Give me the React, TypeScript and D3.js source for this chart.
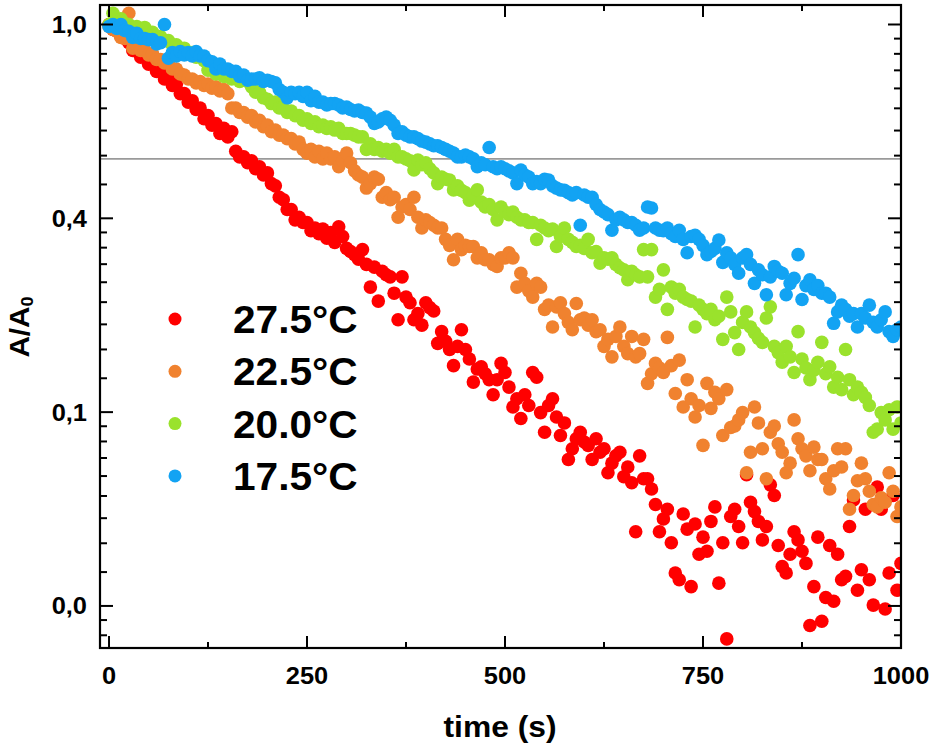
import React from 'react';
import * as d3 from 'd3';

// sampling every 5 s, 0..1000 s
const times = d3.range(0, 1001, 5);

// A/A0
const red275 = [
  1.00, 0.975, 0.975, 0.94, 0.93,
  0.91, 0.875, 0.88, 0.845, 0.85,
  0.815, 0.82, 0.785, 0.79, 0.755,
  0.755, 0.73, 0.735, 0.70, 0.70,
  0.67, 0.675, 0.645, 0.65, 0.615,
  0.625, 0.595, 0.60, 0.57, 0.585,
  0.56, 0.575, 0.52, 0.505, 0.505,
  0.49, 0.495, 0.475, 0.48, 0.46,
  0.465, 0.44, 0.435, 0.41, 0.405,
  0.385, 0.385, 0.365, 0.37, 0.36,
  0.36, 0.345, 0.35, 0.34, 0.348,
  0.332, 0.342, 0.325, 0.352, 0.335,
  0.315, 0.31, 0.305, 0.298, 0.313,
  0.29, 0.258, 0.286, 0.24, 0.28,
  0.275, 0.272, 0.25, 0.218, 0.272,
  0.245, 0.238, 0.218, 0.225, 0.212,
  0.238, 0.232, 0.228, 0.193, 0.205,
  0.195, 0.187, 0.172, 0.19, 0.207,
  0.187, 0.178, 0.158, 0.169, 0.171,
  0.165, 0.16, 0.148, 0.16, 0.174,
  0.166, 0.154, 0.139, 0.145, 0.131,
  0.148, 0.14, 0.166, 0.162, 0.135,
  0.122, 0.14, 0.145, 0.132, 0.12,
  0.128, 0.106, 0.112, 0.118, 0.122,
  0.116, 0.114, 0.106, 0.118, 0.11,
  0.112, 0.099, 0.104, 0.108, 0.11,
  0.097, 0.102, 0.094, 0.073, 0.108,
  0.096, 0.096, 0.091, 0.084, 0.073,
  0.078, 0.082, 0.069, 0.059, 0.057,
  0.08, 0.074, 0.055, 0.076, 0.065,
  0.071, 0.066, 0.077, 0.083, 0.056,
  0.069, 0.042, 0.079, 0.082, 0.075,
  0.069, 0.098, 0.085, 0.081, 0.077,
  0.07, 0.075, 0.093, 0.088, 0.068,
  0.061, 0.059, 0.065, 0.073, 0.07,
  0.066, 0.062, 0.045, 0.055, 0.071,
  0.046, 0.052, 0.068, 0.051, 0.065,
  0.057, 0.058, 0.075, 0.086, 0.054,
  0.06, 0.082, 0.057, 0.05, 0.092,
  0.082, 0.049, 0.059, 0.088, 0.054,
  0.062,
];

const orange225 = [
  0.99, 0.975, 0.965, 0.935, 0.93,
  1.06, 0.885, 0.90, 0.875, 0.875,
  0.855, 0.86, 0.835, 0.835, 0.82,
  0.82, 0.795, 0.795, 0.775, 0.77,
  0.755, 0.755, 0.74, 0.745, 0.73,
  0.735, 0.72, 0.725, 0.71, 0.715,
  0.70, 0.65, 0.65, 0.635, 0.635,
  0.62, 0.625, 0.605, 0.61, 0.59,
  0.595, 0.575, 0.58, 0.565, 0.565,
  0.555, 0.555, 0.54, 0.545, 0.525,
  0.515, 0.525, 0.505, 0.52, 0.50,
  0.515, 0.50, 0.505, 0.48, 0.495,
  0.515, 0.49, 0.47, 0.46, 0.455,
  0.43, 0.44, 0.455, 0.45, 0.41,
  0.42, 0.405, 0.41, 0.37, 0.39,
  0.395, 0.385, 0.41, 0.37, 0.35,
  0.365, 0.36, 0.355, 0.35, 0.35,
  0.33, 0.32, 0.297, 0.33, 0.313,
  0.32, 0.318, 0.318, 0.30, 0.308,
  0.297, 0.297, 0.29, 0.287, 0.30,
  0.30, 0.308, 0.30, 0.258, 0.277,
  0.263, 0.253, 0.245, 0.263, 0.258,
  0.23, 0.235, 0.21, 0.233, 0.238,
  0.225, 0.215, 0.207, 0.237, 0.218,
  0.22, 0.212, 0.218, 0.205, 0.207,
  0.19, 0.197, 0.18, 0.20, 0.21,
  0.19, 0.183, 0.20, 0.18, 0.183,
  0.197, 0.157, 0.165, 0.174, 0.17,
  0.166, 0.199, 0.172, 0.149, 0.177,
  0.139, 0.16, 0.145, 0.132, 0.14,
  0.114, 0.157, 0.138, 0.15, 0.145,
  0.12, 0.152, 0.125, 0.126, 0.13,
  0.135, 0.099, 0.11, 0.139, 0.128,
  0.112, 0.096, 0.122, 0.126, 0.115,
  0.11, 0.099, 0.104, 0.13, 0.118,
  0.112, 0.108, 0.10, 0.113, 0.106,
  0.106, 0.096, 0.091, 0.10, 0.112,
  0.102, 0.112, 0.082, 0.088, 0.095,
  0.104, 0.096, 0.09, 0.084, 0.083,
  0.087, 0.085, 0.099, 0.09, 0.079,
  0.083,
];

const green200 = [
  1.00, 1.06, 1.025, 1.03, 1.005,
  1.00, 0.985, 0.99, 0.97, 0.985,
  0.96, 0.96, 0.935, 0.94, 0.92,
  0.92, 0.90, 0.90, 0.885, 0.885,
  0.865, 0.865, 0.845, 0.85, 0.83,
  0.79, 0.80, 0.775, 0.78, 0.765,
  0.77, 0.755, 0.76, 0.745, 0.75,
  0.745, 0.725, 0.705, 0.705, 0.685,
  0.68, 0.665, 0.67, 0.65, 0.65,
  0.635, 0.64, 0.625, 0.625, 0.61,
  0.615, 0.60, 0.605, 0.59, 0.595,
  0.585, 0.59, 0.58, 0.585, 0.57,
  0.57, 0.57, 0.565, 0.56, 0.56,
  0.525, 0.54, 0.525, 0.53, 0.52,
  0.525, 0.515, 0.525, 0.505, 0.505,
  0.50, 0.495, 0.472, 0.497, 0.485,
  0.49, 0.475, 0.465, 0.44, 0.455,
  0.45, 0.448, 0.426, 0.435, 0.425,
  0.42, 0.404, 0.415, 0.426, 0.40,
  0.39, 0.395, 0.385, 0.365, 0.39,
  0.38, 0.375, 0.38, 0.37, 0.365,
  0.365, 0.36, 0.36, 0.33, 0.355,
  0.35, 0.345, 0.348, 0.318, 0.335,
  0.35, 0.33, 0.325, 0.318, 0.32,
  0.315, 0.33, 0.308, 0.31, 0.292,
  0.30, 0.298, 0.30, 0.29, 0.285,
  0.282, 0.268, 0.28, 0.275, 0.272,
  0.313, 0.272, 0.313, 0.245, 0.255,
  0.282, 0.23, 0.258, 0.25, 0.255,
  0.245, 0.242, 0.24, 0.21, 0.235,
  0.23, 0.225, 0.23, 0.218, 0.222,
  0.197, 0.245, 0.227, 0.204, 0.187,
  0.215, 0.227, 0.21, 0.204, 0.198,
  0.194, 0.22, 0.233, 0.19, 0.184,
  0.175, 0.19, 0.18, 0.166, 0.205,
  0.178, 0.17, 0.16, 0.168, 0.175,
  0.194, 0.165, 0.171, 0.154, 0.162,
  0.152, 0.187, 0.16, 0.148, 0.154,
  0.15, 0.146, 0.14, 0.122, 0.124,
  0.135, 0.13, 0.137, 0.124, 0.139,
  0.128,
];

const blue175 = [
  0.99, 1.00, 0.98, 1.00, 0.97,
  0.965, 0.935, 0.955, 0.93, 0.93,
  0.925, 0.925, 0.905, 0.91, 1.00,
  0.84, 0.865, 0.85, 0.87, 0.855,
  0.865, 0.85, 0.87, 0.85, 0.85,
  0.83, 0.825, 0.795, 0.815, 0.795,
  0.795, 0.785, 0.785, 0.765, 0.77,
  0.75, 0.755, 0.755, 0.76, 0.745,
  0.75, 0.745, 0.74, 0.715, 0.705,
  0.685, 0.705, 0.70, 0.705, 0.69,
  0.705, 0.675, 0.69, 0.67, 0.67,
  0.66, 0.665, 0.665, 0.66, 0.65,
  0.653, 0.645, 0.64, 0.643, 0.635,
  0.633, 0.62, 0.60, 0.605, 0.615,
  0.62, 0.61, 0.595, 0.57, 0.575,
  0.565, 0.56, 0.56, 0.555, 0.548,
  0.545, 0.54, 0.535, 0.535, 0.53,
  0.525, 0.52, 0.515, 0.505, 0.505,
  0.51, 0.505, 0.50, 0.48, 0.49,
  0.485, 0.53, 0.48, 0.475, 0.48,
  0.475, 0.47, 0.465, 0.44, 0.472,
  0.46, 0.455, 0.44, 0.445, 0.44,
  0.45, 0.448, 0.435, 0.43, 0.426,
  0.425, 0.42, 0.415, 0.42, 0.355,
  0.415, 0.41, 0.41, 0.395, 0.385,
  0.38, 0.375, 0.346, 0.365, 0.37,
  0.365, 0.36, 0.36, 0.355, 0.346,
  0.35, 0.39, 0.388, 0.35, 0.346,
  0.345, 0.35, 0.34, 0.335, 0.346,
  0.33, 0.308, 0.335, 0.337, 0.33,
  0.32, 0.305, 0.31, 0.315, 0.329,
  0.293, 0.308, 0.30, 0.29, 0.277,
  0.30, 0.305, 0.29, 0.263, 0.282,
  0.275, 0.248, 0.272, 0.287, 0.28,
  0.277, 0.248, 0.263, 0.27, 0.305,
  0.242, 0.26, 0.268, 0.255, 0.26,
  0.25, 0.25, 0.245, 0.214, 0.227,
  0.235, 0.23, 0.222, 0.225, 0.21,
  0.225, 0.22, 0.235, 0.215, 0.21,
  0.218, 0.227, 0.205, 0.20, 0.207,
  0.21,
];

const seriesLabels = ['27.5°C', '22.5°C', '20.0°C', '17.5°C'];
const seriesColors = ['#FF0000', '#F0822F', '#9AE22C', '#12A3F3'];
const seriesValues = [red275, orange225, green200, blue175];

const xTicks = [0, 250, 500, 750, 1000];
const xMinorTicks = [125, 375, 625, 875];
const yTicks = [1, Math.exp(-1), Math.exp(-2), Math.exp(-3)];
const yTickLabels = ['1,0', '0,4', '0,1', '0,0'];
const halfLevel = 0.5;

const W = 935;
const H = 750;
const left = 100;
const right = 901;
const top = 5;
const bottom = 648;
const font = "'Liberation Sans', Arial, sans-serif";

// linear minor ticks inside each e-fold, like Origin's ln axis
const yMinorTicks: number[] = [];
for (let k = -4; k < 1; k++) {
  const lo = Math.exp(k);
  const hi = Math.exp(k + 1);
  for (let j = 1; j <= 8; j++) yMinorTicks.push(lo + (j * (hi - lo)) / 9);
}

const Txt = ({ x, y, size, anchor = 'start', sx = 1.06, rotate = 0, children }: any) => (
  <text
    transform={`translate(${x},${y}) rotate(${rotate}) scale(${sx},1)`}
    fontSize={size}
    fontWeight="bold"
    fontFamily={font}
    textAnchor={anchor}
    fill="#000"
  >
    {children}
  </text>
);

const App: React.FC = () => {
  const x = d3.scaleLinear().domain([-11.4, 1000]).range([left, right]);
  const y = d3
    .scaleLog()
    .base(Math.E)
    .domain([Math.exp(-3.217), Math.exp(0.1006)])
    .range([bottom, top]);

  const [y0, y1] = y.domain();
  const minorY = yMinorTicks.filter((v) => v > y0 && v < y1);

  return (
    <svg
      width={W}
      height={H}
      style={{ position: 'absolute', left: 0, top: 0, background: '#fff' }}
    >
      <defs>
        <clipPath id="plot">
          <rect x={left} y={top} width={right - left} height={bottom - top} />
        </clipPath>
      </defs>

      {/* half level */}
      <line
        x1={left}
        x2={right}
        y1={y(halfLevel)}
        y2={y(halfLevel)}
        stroke="#9a9a9a"
        strokeWidth={1.6}
      />

      <g clipPath="url(#plot)">
        {seriesValues.map((vals, si) => (
          <g key={si} fill={seriesColors[si]}>
            {vals.map((v, i) => (
              <circle key={i} cx={x(times[i])} cy={y(v)} r={6.8} />
            ))}
          </g>
        ))}
      </g>

      {/* ticks, inward on all four sides */}
      <g stroke="#000" strokeWidth={2}>
        {xTicks.map((t) => (
          <g key={'xt' + t}>
            <line x1={x(t)} x2={x(t)} y1={bottom} y2={bottom - 12} />
            <line x1={x(t)} x2={x(t)} y1={top} y2={top + 12} />
          </g>
        ))}
        {xMinorTicks.map((t) => (
          <g key={'xm' + t}>
            <line x1={x(t)} x2={x(t)} y1={bottom} y2={bottom - 6} />
            <line x1={x(t)} x2={x(t)} y1={top} y2={top + 6} />
          </g>
        ))}
        {yTicks.map((v, i) => (
          <g key={'yt' + i}>
            <line x1={left} x2={left + 13} y1={y(v)} y2={y(v)} />
            <line x1={right} x2={right - 13} y1={y(v)} y2={y(v)} />
          </g>
        ))}
        {minorY.map((v, i) => (
          <g key={'ym' + i}>
            <line x1={left} x2={left + 7} y1={y(v)} y2={y(v)} />
            <line x1={right} x2={right - 7} y1={y(v)} y2={y(v)} />
          </g>
        ))}
      </g>

      <rect
        x={left}
        y={top}
        width={right - left}
        height={bottom - top}
        fill="none"
        stroke="#000"
        strokeWidth={2.2}
      />

      {/* tick labels */}
      {xTicks.map((t) => (
        <Txt key={'xl' + t} x={x(t)} y={684} size={24} anchor="middle">
          {t}
        </Txt>
      ))}
      {yTicks.map((v, i) => (
        <Txt key={'yl' + i} x={87} y={y(v) + 8.5} size={24} anchor="end">
          {yTickLabels[i]}
        </Txt>
      ))}

      {/* axis titles */}
      <Txt x={500} y={737} size={30} anchor="middle">
        time (s)
      </Txt>
      <Txt x={29} y={327} size={28} anchor="middle" rotate={-90}>
        A/A<tspan fontSize={17} dy={4}>0</tspan>
      </Txt>

      {/* legend */}
      {seriesLabels.map((lab, i) => {
        const cy = 319 + i * 52.3;
        return (
          <g key={lab}>
            <circle cx={175} cy={cy} r={6.5} fill={seriesColors[i]} />
            <Txt x={233} y={cy + 14} size={38} sx={1.07}>
              {lab}
            </Txt>
          </g>
        );
      })}
    </svg>
  );
};

export default App;
